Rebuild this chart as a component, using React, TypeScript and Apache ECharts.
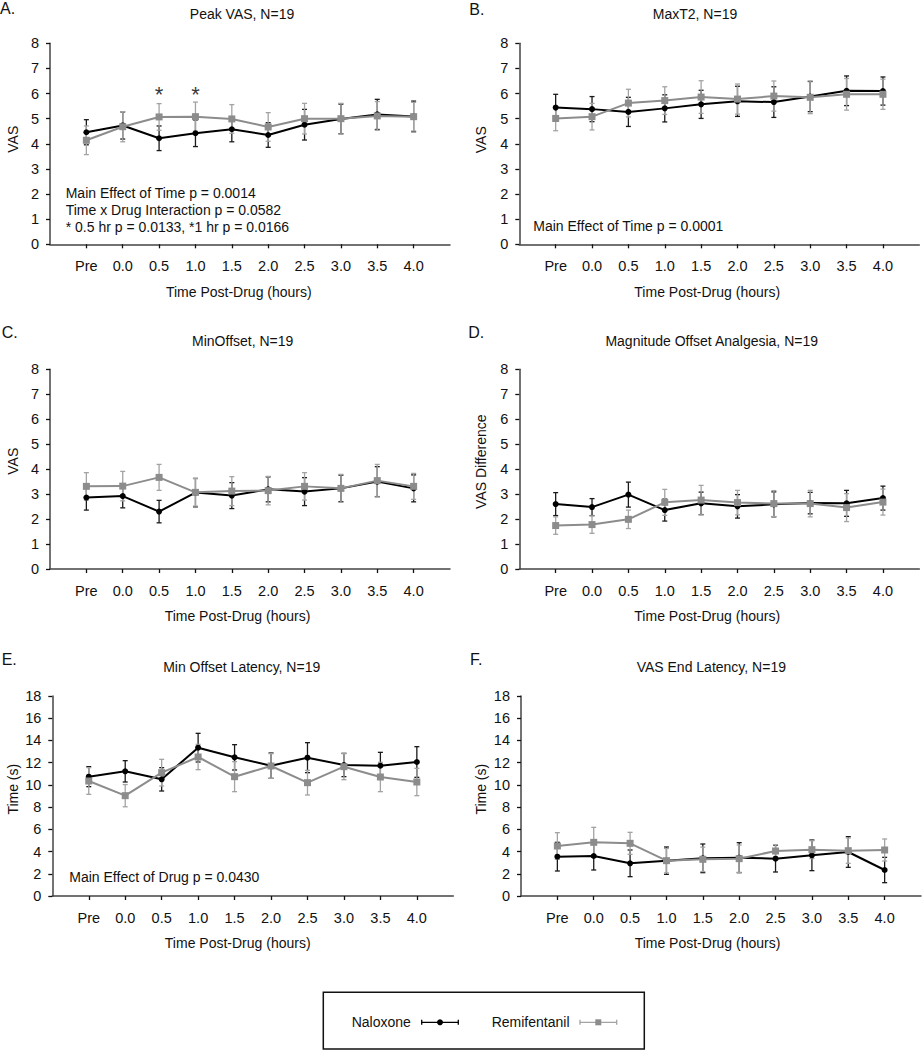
import React, { useEffect, useRef } from "react";
import * as echarts from "echarts";

const timeLabels = ["Pre", "0.0", "0.5", "1.0", "1.5", "2.0", "2.5", "3.0", "3.5", "4.0"];

const peakVasNal = [4.46, 4.73, 4.22, 4.42, 4.58, 4.35, 4.76, 4.99, 5.17, 5.09];
const peakVasNalErr = [0.5, 0.54, 0.49, 0.53, 0.5, 0.49, 0.61, 0.59, 0.6, 0.61];
const peakVasRem = [4.14, 4.68, 5.07, 5.08, 4.99, 4.67, 5.0, 5.0, 5.11, 5.08];
const peakVasRemErr = [0.57, 0.6, 0.53, 0.58, 0.57, 0.57, 0.61, 0.61, 0.57, 0.57];

const maxT2Nal = [5.44, 5.38, 5.27, 5.41, 5.57, 5.69, 5.66, 5.88, 6.11, 6.1];
const maxT2NalErr = [0.53, 0.5, 0.58, 0.54, 0.56, 0.6, 0.61, 0.6, 0.59, 0.56];
const maxT2Rem = [5.01, 5.08, 5.62, 5.72, 5.86, 5.78, 5.9, 5.85, 5.97, 5.97];
const maxT2RemErr = [0.49, 0.53, 0.55, 0.55, 0.65, 0.6, 0.6, 0.65, 0.63, 0.6];

const minOffNal = [2.86, 2.92, 2.3, 3.06, 2.94, 3.19, 3.1, 3.23, 3.5, 3.23];
const minOffNalErr = [0.5, 0.47, 0.45, 0.57, 0.52, 0.5, 0.56, 0.53, 0.6, 0.54];
const minOffRem = [3.31, 3.32, 3.67, 3.07, 3.12, 3.14, 3.31, 3.23, 3.54, 3.31];
const minOffRemErr = [0.55, 0.59, 0.52, 0.55, 0.58, 0.57, 0.55, 0.56, 0.65, 0.52];

const magNal = [2.6, 2.48, 2.98, 2.36, 2.63, 2.51, 2.59, 2.64, 2.63, 2.84];
const magNalErr = [0.46, 0.34, 0.5, 0.44, 0.45, 0.47, 0.5, 0.43, 0.52, 0.48];
const magRem = [1.74, 1.78, 1.99, 2.67, 2.76, 2.66, 2.62, 2.62, 2.46, 2.68];
const magRemErr = [0.35, 0.35, 0.37, 0.52, 0.59, 0.49, 0.52, 0.53, 0.56, 0.52];

const latNal = [10.74, 11.22, 10.5, 13.35, 12.48, 11.73, 12.45, 11.79, 11.73, 12.06];
const latNalErr = [0.9, 0.96, 1.05, 1.29, 1.14, 1.14, 1.35, 1.05, 1.2, 1.38];
const latRem = [10.35, 9.03, 11.1, 12.51, 10.74, 11.7, 10.2, 11.64, 10.71, 10.26];
const latRemErr = [1.2, 1.0, 1.2, 1.14, 1.35, 1.11, 1.11, 1.17, 1.32, 1.23];

const endNal = [3.54, 3.6, 2.94, 3.18, 3.39, 3.45, 3.36, 3.66, 3.96, 2.34];
const endNalErr = [1.29, 1.26, 1.2, 1.23, 1.29, 1.35, 1.2, 1.38, 1.38, 1.14];
const endRem = [4.5, 4.83, 4.74, 3.18, 3.3, 3.36, 4.05, 4.17, 4.08, 4.14];
const endRemErr = [1.2, 1.35, 0.99, 1.1, 1.1, 1.23, 0.55, 0.8, 1.14, 0.99];

// significance markers in panel A: [time label, y value]
const peakVasSig: [string, number][] = [["0.5", 5.95], ["1.0", 5.98]];

const FONT = '"Liberation Sans", Arial, Helvetica, sans-serif';
const NAL_COLOR = "#000000";
const NAL_ERR = "#1a1a1a";
const REM_COLOR = "#8c8c8c";
const REM_ERR = "#a3a3a3";
const AXIS_COLOR = "#444444";

type Panel = {
  letter: string;
  title: string;
  yName: string;
  nal: number[];
  nalErr: number[];
  rem: number[];
  remErr: number[];
  yMax: number;
  yInterval: number;
  notes: string[];
  grid: { left: number; top: number; width: number; height: number };
  titleX: number;
  titleY: number;
  letterX: number;
  letterY: number;
  xNameX: number;
  xNameY: number;
  yNameX: number;
  yNameY: number;
  noteX: number;
  noteY: number;
};

const panels: Panel[] = [
  {
    letter: "A.", title: "Peak VAS, N=19", yName: "VAS",
    nal: peakVasNal, nalErr: peakVasNalErr, rem: peakVasRem, remErr: peakVasRemErr,
    yMax: 8, yInterval: 1,
    notes: ["Main Effect of Time p = 0.0014", "Time x Drug Interaction p = 0.0582", "* 0.5 hr p = 0.0133, *1 hr p = 0.0166"],
    grid: { left: 50, top: 43.3, width: 400, height: 201 },
    titleX: 237, titleY: 10, letterX: 0, letterY: 9,
    xNameX: 238.8, xNameY: 292, yNameX: 12.7, yNameY: 139.2, noteX: 65.7, noteY: 193.3,
  },
  {
    letter: "B.", title: "MaxT2, N=19", yName: "VAS",
    nal: maxT2Nal, nalErr: maxT2NalErr, rem: maxT2Rem, remErr: maxT2RemErr,
    yMax: 8, yInterval: 1,
    notes: ["Main Effect of Time p = 0.0001"],
    grid: { left: 519.3, top: 43.3, width: 400, height: 201 },
    titleX: 690, titleY: 10, letterX: 469.3, letterY: 10,
    xNameX: 707.2, xNameY: 292, yNameX: 480.8, yNameY: 139.7, noteX: 533.3, noteY: 226,
  },
  {
    letter: "C.", title: "MinOffset, N=19", yName: "VAS",
    nal: minOffNal, nalErr: minOffNalErr, rem: minOffRem, remErr: minOffRemErr,
    yMax: 8, yInterval: 1,
    notes: [],
    grid: { left: 50, top: 369.3, width: 400, height: 199.7 },
    titleX: 237.7, titleY: 337, letterX: 1.7, letterY: 333,
    xNameX: 237.5, xNameY: 616, yNameX: 12.7, yNameY: 461.2, noteX: 0, noteY: 0,
  },
  {
    letter: "D.", title: "Magnitude Offset Analgesia, N=19", yName: "VAS Difference",
    nal: magNal, nalErr: magNalErr, rem: magRem, remErr: magRemErr,
    yMax: 8, yInterval: 1,
    notes: [],
    grid: { left: 519.3, top: 369.3, width: 400, height: 199.7 },
    titleX: 706.7, titleY: 337, letterX: 468.3, letterY: 333,
    xNameX: 707.2, xNameY: 616, yNameX: 480.8, yNameY: 461.7, noteX: 0, noteY: 0,
  },
  {
    letter: "E.", title: "Min Offset Latency, N=19", yName: "Time (s)",
    nal: latNal, nalErr: latNalErr, rem: latRem, remErr: latRemErr,
    yMax: 18, yInterval: 2,
    notes: ["Main Effect of Drug p = 0.0430"],
    grid: { left: 52.3, top: 696, width: 401, height: 200 },
    titleX: 236.7, titleY: 662.8, letterX: 1.7, letterY: 660,
    xNameX: 237.7, xNameY: 943.3, yNameX: 12.5, yNameY: 789.2, noteX: 69.3, noteY: 876.7,
  },
  {
    letter: "F.", title: "VAS End Latency, N=19", yName: "Time (s)",
    nal: endNal, nalErr: endNalErr, rem: endRem, remErr: endRemErr,
    yMax: 18, yInterval: 2,
    notes: [],
    grid: { left: 521, top: 696, width: 400, height: 200 },
    titleX: 706.3, titleY: 662.8, letterX: 470, letterY: 660,
    xNameX: 707.5, xNameY: 943.3, yNameX: 480.8, yNameY: 789.2, noteX: 0, noteY: 0,
  },
];

function errorBarSeries(idx: number, means: number[], errs: number[], color: string, name: string) {
  return {
    type: "custom",
    name,
    xAxisIndex: idx,
    yAxisIndex: idx,
    silent: true,
    z: 2,
    data: means.map((m, i) => [i, m - errs[i], m + errs[i]]),
    encode: { x: 0, y: [1, 2] },
    renderItem: (_params: any, api: any) => {
      const x = api.value(0);
      const lo = api.coord([x, api.value(1)]);
      const hi = api.coord([x, api.value(2)]);
      const w = 2.5;
      const style = { stroke: color, lineWidth: 1.3, fill: "none" };
      return {
        type: "group",
        children: [
          { type: "line", shape: { x1: lo[0], y1: lo[1], x2: hi[0], y2: hi[1] }, style },
          { type: "line", shape: { x1: lo[0] - w, y1: lo[1], x2: lo[0] + w, y2: lo[1] }, style },
          { type: "line", shape: { x1: hi[0] - w, y1: hi[1], x2: hi[0] + w, y2: hi[1] }, style },
        ],
      };
    },
  };
}

function buildOption() {
  const grids: any[] = [];
  const xAxes: any[] = [];
  const yAxes: any[] = [];
  const series: any[] = [];
  const titles: any[] = [];
  const graphics: any[] = [];
  const idxs = timeLabels.map((_, i) => i);

  panels.forEach((p, k) => {
    grids.push({ ...p.grid, containLabel: false });
    xAxes.push({
      type: "value",
      gridIndex: k,
      min: -1,
      max: 10,
      axisLine: { show: true, onZero: false, lineStyle: { color: AXIS_COLOR, width: 1.5 } },
      axisTick: { show: true, customValues: idxs, length: 4, lineStyle: { color: "#111", width: 1.3 } },
      axisLabel: {
        show: true,
        customValues: idxs,
        formatter: (v: number) => timeLabels[Math.round(v)] ?? "",
        fontFamily: FONT,
        fontSize: 14.5,
        color: "#111",
        margin: 14,
      },
      splitLine: { show: false },
    });
    yAxes.push({
      type: "value",
      gridIndex: k,
      min: 0,
      max: p.yMax,
      interval: p.yInterval,
      axisLine: { show: true, onZero: false, lineStyle: { color: AXIS_COLOR, width: 1.5 } },
      axisTick: { show: true, length: 4, lineStyle: { color: "#111", width: 1.3 } },
      axisLabel: { fontFamily: FONT, fontSize: 14.5, color: "#111", margin: 11 },
      splitLine: { show: false },
    });

    series.push(errorBarSeries(k, p.nal, p.nalErr, NAL_ERR, "Naloxone error"));
    series.push({
      type: "line",
      name: "Naloxone",
      xAxisIndex: k,
      yAxisIndex: k,
      z: 3,
      data: p.nal.map((v, i) => [i, v]),
      symbol: "circle",
      symbolSize: 6,
      itemStyle: { color: NAL_COLOR },
      lineStyle: { color: NAL_COLOR, width: 2 },
    });
    series.push(errorBarSeries(k, p.rem, p.remErr, REM_ERR, "Remifentanil error"));
    series.push({
      type: "line",
      name: "Remifentanil",
      xAxisIndex: k,
      yAxisIndex: k,
      z: 4,
      data: p.rem.map((v, i) => [i, v]),
      symbol: "rect",
      symbolSize: 7,
      itemStyle: { color: REM_COLOR },
      lineStyle: { color: REM_COLOR, width: 2 },
    });

    titles.push({
      text: p.title,
      left: p.titleX,
      top: p.titleY - 8,
      textAlign: "center",
      textStyle: { fontFamily: FONT, fontSize: 14, fontWeight: "normal", color: "#111" },
    });

    graphics.push({
      type: "text",
      left: p.letterX,
      top: p.letterY - 9,
      style: { text: p.letter, font: `16px ${FONT}`, fill: "#111" },
    });
    graphics.push({
      type: "text",
      x: p.xNameX,
      y: p.xNameY,
      style: { text: "Time Post-Drug (hours)", font: `14px ${FONT}`, fill: "#111", textAlign: "center", textVerticalAlign: "middle" },
    });
    graphics.push({
      type: "text",
      x: p.yNameX,
      y: p.yNameY,
      rotation: Math.PI / 2,
      style: { text: p.yName, font: `14px ${FONT}`, fill: "#111", textAlign: "center", textVerticalAlign: "middle" },
    });
    p.notes.forEach((n, j) => {
      graphics.push({
        type: "text",
        x: p.noteX,
        y: p.noteY + j * 17,
        style: { text: n, font: `14px ${FONT}`, fill: "#111", textAlign: "left", textVerticalAlign: "middle" },
      });
    });
  });

  // significance asterisks in panel A
  series.push({
    type: "scatter",
    name: "significance",
    xAxisIndex: 0,
    yAxisIndex: 0,
    silent: true,
    symbolSize: 0.1,
    itemStyle: { color: "rgba(0,0,0,0)" },
    data: peakVasSig.map(([t, y]) => [timeLabels.indexOf(t), y]),
    label: {
      show: true,
      position: "inside",
      formatter: "*",
      fontFamily: FONT,
      fontSize: 22,
      color: "#000",
    },
  });

  // legend box
  const ly = 1022.3;
  graphics.push({
    type: "rect",
    shape: { x: 323.3, y: 992.3, width: 321, height: 56.7 },
    style: { fill: "none", stroke: "#111", lineWidth: 1.5 },
  });
  graphics.push({
    type: "text",
    x: 351.7,
    y: ly,
    style: { text: "Naloxone", font: `14px ${FONT}`, fill: "#111", textVerticalAlign: "middle" },
  });
  graphics.push({
    type: "text",
    x: 491.7,
    y: ly,
    style: { text: "Remifentanil", font: `14px ${FONT}`, fill: "#111", textVerticalAlign: "middle" },
  });
  const legSym = (x1: number, x2: number, color: string, marker: any) => {
    const st = { stroke: color, lineWidth: 1.3 };
    graphics.push({ type: "line", shape: { x1, y1: ly, x2, y2: ly }, style: st });
    graphics.push({ type: "line", shape: { x1, y1: ly - 2.5, x2: x1, y2: ly + 2.5 }, style: st });
    graphics.push({ type: "line", shape: { x1: x2, y1: ly - 2.5, x2, y2: ly + 2.5 }, style: st });
    graphics.push(marker);
  };
  legSym(421.7, 458.3, NAL_COLOR, { type: "circle", shape: { cx: 440, cy: ly, r: 3 }, style: { fill: NAL_COLOR } });
  legSym(580, 616.7, REM_ERR, { type: "rect", shape: { x: 595.3, y: ly - 3, width: 6, height: 6 }, style: { fill: REM_COLOR } });

  return {
    animation: false,
    backgroundColor: "#ffffff",
    textStyle: { fontFamily: FONT },
    title: titles,
    grid: grids,
    xAxis: xAxes,
    yAxis: yAxes,
    series,
    graphic: graphics,
  };
}

export default function App() {
  const ref = useRef<HTMLDivElement>(null);
  useEffect(() => {
    if (!ref.current) return;
    const chart = echarts.init(ref.current, undefined, { renderer: "svg" });
    chart.setOption(buildOption() as any);
    return () => chart.dispose();
  }, []);
  return (
    <div
      ref={ref}
      style={{ position: "absolute", left: 0, top: 0, width: 924, height: 1050, background: "#fff" }}
    />
  );
}
